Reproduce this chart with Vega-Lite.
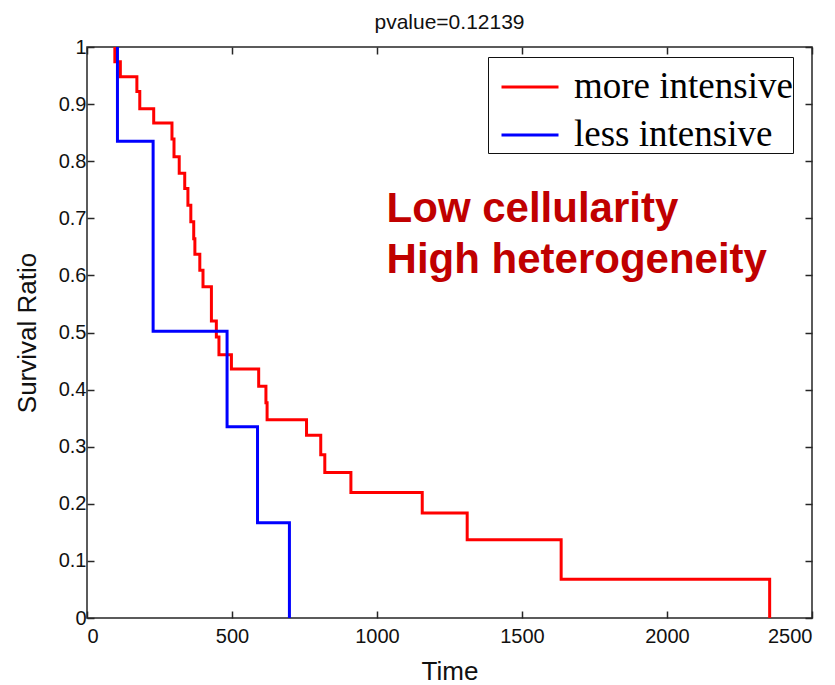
{
  "$schema": "https://vega.github.io/schema/vega-lite/v6.json",
  "width": 725,
  "height": 571,
  "autosize": {"type": "none"},
  "padding": {"left": 87, "top": 47, "right": 23, "bottom": 67},
  "background": "white",
  "config": {
    "view": {"stroke": "#262626", "strokeWidth": 1.5},
    "font": "Liberation Sans",
    "axis": {"grid": false, "domain": false, "tickColor": "#262626", "tickWidth": 1.5, "tickSize": -7, "labelColor": "#111", "labelFont": "Liberation Sans", "labelFontSize": 20, "titleFont": "Liberation Sans", "titleFontSize": 26, "titleFontWeight": "normal", "titleColor": "#111"}
  },
  "title": {"text": "pvalue=0.12139", "font": "Liberation Sans", "fontSize": 21, "fontWeight": "normal", "color": "#111", "offset": 4},
  "datasets": {
    "km": [
      {"group": "more intensive", "i": 0, "time": 96, "surv": 1},
      {"group": "more intensive", "i": 1, "time": 96, "surv": 0.974},
      {"group": "more intensive", "i": 2, "time": 115, "surv": 0.948},
      {"group": "more intensive", "i": 3, "time": 172, "surv": 0.922},
      {"group": "more intensive", "i": 4, "time": 182, "surv": 0.892},
      {"group": "more intensive", "i": 5, "time": 230, "surv": 0.867},
      {"group": "more intensive", "i": 6, "time": 293, "surv": 0.839},
      {"group": "more intensive", "i": 7, "time": 300, "surv": 0.808},
      {"group": "more intensive", "i": 8, "time": 318, "surv": 0.779},
      {"group": "more intensive", "i": 9, "time": 337, "surv": 0.752},
      {"group": "more intensive", "i": 10, "time": 348, "surv": 0.723},
      {"group": "more intensive", "i": 11, "time": 358, "surv": 0.694},
      {"group": "more intensive", "i": 12, "time": 368, "surv": 0.664},
      {"group": "more intensive", "i": 13, "time": 372, "surv": 0.637},
      {"group": "more intensive", "i": 14, "time": 389, "surv": 0.609},
      {"group": "more intensive", "i": 15, "time": 400, "surv": 0.58},
      {"group": "more intensive", "i": 16, "time": 429, "surv": 0.52},
      {"group": "more intensive", "i": 17, "time": 446, "surv": 0.492},
      {"group": "more intensive", "i": 18, "time": 455, "surv": 0.461},
      {"group": "more intensive", "i": 19, "time": 498, "surv": 0.436},
      {"group": "more intensive", "i": 20, "time": 592, "surv": 0.406},
      {"group": "more intensive", "i": 21, "time": 617, "surv": 0.377},
      {"group": "more intensive", "i": 22, "time": 621, "surv": 0.347},
      {"group": "more intensive", "i": 23, "time": 757, "surv": 0.32},
      {"group": "more intensive", "i": 24, "time": 806, "surv": 0.286},
      {"group": "more intensive", "i": 25, "time": 820, "surv": 0.255},
      {"group": "more intensive", "i": 26, "time": 910, "surv": 0.22},
      {"group": "more intensive", "i": 27, "time": 1156, "surv": 0.184},
      {"group": "more intensive", "i": 28, "time": 1311, "surv": 0.137},
      {"group": "more intensive", "i": 29, "time": 1635, "surv": 0.068},
      {"group": "more intensive", "i": 30, "time": 2354, "surv": 0},
      {"group": "less intensive", "i": 0, "time": 105, "surv": 1},
      {"group": "less intensive", "i": 1, "time": 105, "surv": 0.835},
      {"group": "less intensive", "i": 2, "time": 228, "surv": 0.502},
      {"group": "less intensive", "i": 3, "time": 483, "surv": 0.335},
      {"group": "less intensive", "i": 4, "time": 588, "surv": 0.167},
      {"group": "less intensive", "i": 5, "time": 698, "surv": 0}
    ]
  },
  "layer": [
    {
      "data": {"name": "km"},
      "mark": {"type": "line", "interpolate": "step-after", "strokeWidth": 3, "clip": true},
      "encoding": {
        "x": {"field": "time", "type": "quantitative", "scale": {"domain": [0, 2500], "nice": false},
              "axis": {"orient": "bottom", "values": [0, 500, 1000, 1500, 2000, 2500], "format": "d", "title": "Time", "labelPadding": 15, "titlePadding": 12}},
        "y": {"field": "surv", "type": "quantitative", "scale": {"domain": [0, 1], "nice": false},
              "axis": {"orient": "left", "values": [0, 0.1, 0.2, 0.3, 0.4, 0.5, 0.6, 0.7, 0.8, 0.9, 1], "format": "~g", "title": "Survival Ratio", "labelPadding": 8, "titlePadding": 18}},
        "order": {"field": "i", "type": "quantitative"},
        "color": {"field": "group", "type": "nominal",
                  "scale": {"domain": ["more intensive", "less intensive"], "range": ["#ff0000", "#0000ff"]},
                  "legend": {"orient": "none", "legendX": 401, "legendY": 10, "title": null, "symbolType": "stroke", "symbolStrokeWidth": 3, "symbolSize": 3249, "labelFont": "Liberation Serif", "labelFontSize": 37, "labelLimit": 500, "labelColor": "black", "strokeColor": "#111", "fillColor": "white", "padding": 0, "symbolOffset": 12, "rowPadding": -12, "labelOffset": 14}}
      }
    },
    {
      "data": {"name": "km"},
      "mark": {"type": "point", "opacity": 0},
      "encoding": {
        "x": {"field": "time", "type": "quantitative", "scale": {"domain": [0, 2500], "nice": false},
              "axis": {"orient": "top", "values": [0, 500, 1000, 1500, 2000, 2500], "labels": false, "title": null}},
        "y": {"field": "surv", "type": "quantitative", "scale": {"domain": [0, 1], "nice": false},
              "axis": {"orient": "right", "values": [0, 0.1, 0.2, 0.3, 0.4, 0.5, 0.6, 0.7, 0.8, 0.9, 1], "labels": false, "title": null}}
      }
    },
    {
      "data": {"values": [{}]},
      "mark": {"type": "text", "font": "Liberation Sans", "fontWeight": "bold", "fontSize": 42, "color": "#c00000", "align": "left", "baseline": "alphabetic", "lineHeight": 51},
      "encoding": {
        "x": {"datum": 1033, "type": "quantitative", "axis": null},
        "y": {"datum": 0.6935, "type": "quantitative", "axis": null},
        "text": {"value": ["Low cellularity", "High heterogeneity"]}
      }
    }
  ],
  "resolve": {"axis": {"x": "independent", "y": "independent"}}
}
